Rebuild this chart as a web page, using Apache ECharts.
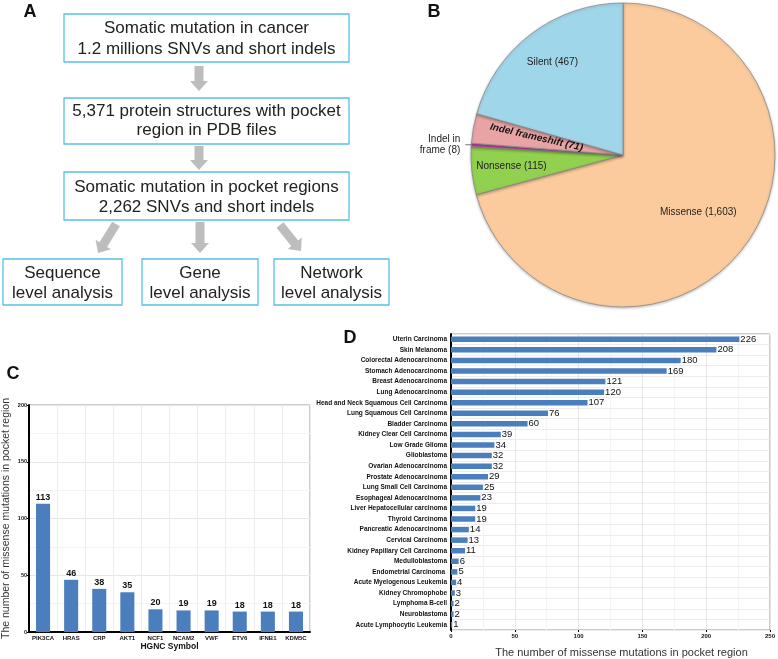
<!DOCTYPE html>
<html>
<head>
<meta charset="utf-8">
<script src="https://cdn.jsdelivr.net/npm/echarts@6/dist/echarts.min.js"></script>
<style>
  html, body { margin: 0; padding: 0; background: #fff; }
  #fig { width: 778px; height: 659px; }
</style>
</head>
<body>
<div id="fig"></div>
<script>
// ---- data ----
const pieNames = ["Missense", "Nonsense", "Indel in frame", "Indel frameshift", "Silent"];
const pieValues = [1603, 115, 8, 71, 467];

const geneNames = ["PIK3CA", "HRAS", "CRP", "AKT1", "NCF1", "NCAM2", "VWF", "ETV6", "IFNB1", "KDM5C"];
const geneCounts = [113, 46, 38, 35, 20, 19, 19, 18, 18, 18];
const geneTicks = [0, 50, 100, 150, 200];

const cancerNames = [
  "Uterin Carcinoma", "Skin Melanoma", "Colorectal Adenocarcinoma", "Stomach Adenocarcinoma",
  "Breast Adenocarcinoma", "Lung Adenocarcinoma", "Head and Neck Squamous Cell Carcinoma",
  "Lung Squamous Cell Carcinoma", "Bladder Carcinoma", "Kidney Clear Cell Carcinoma",
  "Low Grade Glioma", "Glioblastoma", "Ovarian Adenocarcinoma", "Prostate Adenocarcinoma",
  "Lung Small Cell Carcinoma", "Esophageal Adenocarcinoma", "Liver Hepatocellular carcinoma",
  "Thyroid Carcinoma", "Pancreatic Adenocarcinoma", "Cervical Carcinoma",
  "Kidney Papillary Cell Carcinoma", "Medulloblastoma", "Endometrial Carcinoma ",
  "Acute Myelogenous Leukemia", "Kidney Chromophobe", "Lymphoma B-cell", "Neuroblastoma",
  "Acute Lymphocytic Leukemia"
];
const cancerCounts = [226, 208, 180, 169, 121, 120, 107, 76, 60, 39, 34, 32, 32, 29, 25, 23,
  19, 19, 14, 13, 11, 6, 5, 4, 3, 2, 2, 1];
const cancerTicks = [0, 50, 100, 150, 200, 250];

// flowchart text (panel A)
const flowTop = [
  ["Somatic mutation in cancer", "1.2 millions SNVs and short indels"],
  ["5,371 protein structures with pocket", "region in PDB files"],
  ["Somatic mutation in pocket regions", "2,262 SNVs and short indels"]
];
const flowBottom = [
  ["Sequence", "level analysis"],
  ["Gene", "level analysis"],
  ["Network", "level analysis"]
];

// ---- styles ----
const FONT = "'Liberation Sans', Arial, Helvetica, sans-serif";
const BAR = "#4b7ebd";
const pieColors = ["#fccb9d", "#92d050", "#cc3fb4", "#e8a4a4", "#a0d6e9"];
const pieLabelR = [0.6, 0.71, null, 0.56, 0.74];
const PIE_C = [623, 155];
const PIE_R = 152;

const chart = echarts.init(document.getElementById("fig"));

// panel A graphics
const g = [];
function box(x, y, w, h, lines, cy0, lh) {
  g.push({ type: "rect", shape: { x: x, y: y, width: w, height: h },
    style: { fill: "#fff", stroke: "#57c1e6", lineWidth: 1.3 } });
  lines.forEach(function (t, i) {
    g.push({ type: "text", style: { text: t, x: x + w / 2, y: cy0 + i * lh, font: "17px " + FONT,
      fill: "#222", align: "center", verticalAlign: "middle" } });
  });
}
function arrow(x1, y1, x2, y2) {
  const dx = x2 - x1, dy = y2 - y1, L = Math.hypot(dx, dy);
  const ux = dx / L, uy = dy / L, nx = -uy, ny = ux;
  const sw = 4.5, hw = 9, hl = 10;
  const bx = x2 - ux * hl, by = y2 - uy * hl;
  const pts = [
    [x1 + nx * sw, y1 + ny * sw], [bx + nx * sw, by + ny * sw], [bx + nx * hw, by + ny * hw],
    [x2, y2], [bx - nx * hw, by - ny * hw], [bx - nx * sw, by - ny * sw], [x1 - nx * sw, y1 - ny * sw]
  ];
  g.push({ type: "polygon", shape: { points: pts }, style: { fill: "#bdbdbd" } });
}
box(64, 14, 285, 48, flowTop[0], 28.5, 20.5);
box(64, 98, 285, 46, flowTop[1], 111, 19.5);
box(64, 172, 285, 48, flowTop[2], 187, 20);
box(3, 259, 119, 46, flowBottom[0], 273, 20);
box(142, 259, 116, 46, flowBottom[1], 273, 20);
box(274, 259, 115, 46, flowBottom[2], 273, 20);
arrow(199, 66, 199, 91);
arrow(199, 146, 199, 170);
arrow(200, 222, 200, 253);
arrow(116, 224, 98, 253);
arrow(280, 225, 301, 251);

// panel letters
[["A", 30, 12], ["B", 434, 12], ["C", 13, 374], ["D", 350, 338]].forEach(function (l) {
  g.push({ type: "text", style: { text: l[0], x: l[1], y: l[2], font: "bold 18px " + FONT,
    fill: "#111", align: "center", verticalAlign: "middle" } });
});

function fmt(n) { return n.toLocaleString("en-US"); }

const pieData = pieNames.map(function (n, i) {
  const d = { name: n, value: pieValues[i], itemStyle: { color: pieColors[i] } };
  if (n === "Indel in frame") {
    d.label = { position: "outside", formatter: "Indel in\nframe ({c})", align: "right",
      fontSize: 10, lineHeight: 11, color: "#222" };
    d.labelLine = { show: true, length: 2, length2: 4, lineStyle: { color: "#555", width: 0.8 } };
  } else if (n === "Indel frameshift") {
    d.label = { fontWeight: "bold", fontStyle: "italic", rotate: -13, color: "#111" };
  }
  return d;
});

chart.setOption({
  animation: false,
  textStyle: { fontFamily: FONT },
  graphic: g,
  grid: [
    { left: 26, top: 405, width: 284, height: 227, show: true, borderColor: "#999", borderWidth: 1 },
    { left: 451, top: 334, width: 321, height: 301, show: true, borderColor: "#999", borderWidth: 1 }
  ],
  xAxis: [
    {
      gridIndex: 0, type: "category", data: geneNames,
      name: "HGNC Symbol", nameLocation: "middle", nameGap: 9,
      nameTextStyle: { fontSize: 8.5, fontWeight: "bold", color: "#111" },
      axisLine: { lineStyle: { color: "#000", width: 2 } },
      axisTick: { alignWithLabel: true, length: 2, lineStyle: { color: "#000" } },
      axisLabel: { fontSize: 6, fontWeight: "bold", color: "#111", margin: 3, interval: 0 },
      splitLine: { show: true, lineStyle: { color: "#ececec" } }
    },
    {
      gridIndex: 1, type: "value", min: cancerTicks[0], max: cancerTicks[cancerTicks.length - 1], interval: 50,
      name: "The number of missense mutations in pocket region", nameLocation: "middle", nameGap: 17,
      nameTextStyle: { fontSize: 11, color: "#333", padding: [0, 0, 0, 22] },
      axisLine: { lineStyle: { color: "#000", width: 2 } },
      axisTick: { show: true, length: 2, lineStyle: { color: "#000" } },
      axisLabel: { fontSize: 6, fontWeight: "bold", color: "#111", margin: 3 },
      splitLine: { show: true, lineStyle: { color: "#e6e6e6" } },
      minorTick: { show: false, splitNumber: 2 },
      minorSplitLine: { show: true, lineStyle: { color: "#f3f3f3" } }
    }
  ],
  yAxis: [
    {
      gridIndex: 0, type: "value", min: geneTicks[0], max: geneTicks[geneTicks.length - 1], interval: 50,
      name: "The number of missense mutations in pocket region", nameLocation: "middle", nameGap: 17,
      nameTextStyle: { fontSize: 10.5, color: "#333" },
      axisLine: { show: true, lineStyle: { color: "#000", width: 2 } },
      axisTick: { show: true, length: 2, lineStyle: { color: "#000" } },
      axisLabel: { fontSize: 5.5, fontWeight: "bold", color: "#111", margin: 2 },
      splitLine: { show: true, lineStyle: { color: "#e6e6e6" } },
      minorTick: { show: false, splitNumber: 2 },
      minorSplitLine: { show: true, lineStyle: { color: "#f3f3f3" } }
    },
    {
      gridIndex: 1, type: "category", data: cancerNames, inverse: true,
      axisLine: { show: true, lineStyle: { color: "#000", width: 2 } },
      axisTick: { alignWithLabel: true, length: 2, lineStyle: { color: "#000" } },
      axisLabel: { fontSize: 6.5, fontWeight: "bold", color: "#111", margin: 4, interval: 0 },
      splitLine: { show: true, lineStyle: { color: "#ececec" } }
    }
  ],
  series: [
    {
      type: "pie", center: PIE_C, radius: PIE_R, startAngle: 90, clockwise: true,
      avoidLabelOverlap: false,
      data: pieData,
      itemStyle: { borderColor: "#8a8a8a", borderWidth: 0.8, shadowBlur: 3, shadowOffsetY: 1,
        shadowColor: "rgba(0,0,0,0.25)" },
      label: { position: "inside", fontSize: 10, color: "#222",
        formatter: function (p) { return p.name + " (" + fmt(p.value) + ")"; } },
      labelLayout: function (p) {
        const f = pieLabelR[p.dataIndex];
        if (f == null) return {};
        const r = p.labelRect;
        const cx = r.x + r.width / 2, cy = r.y + r.height / 2;
        const k = f / 0.5 - 1;
        return { dx: (cx - PIE_C[0]) * k, dy: (cy - PIE_C[1]) * k };
      },
      emphasis: { disabled: true }
    },
    {
      type: "bar", xAxisIndex: 0, yAxisIndex: 0, data: geneCounts, barWidth: "50%",
      itemStyle: { color: BAR },
      label: { show: true, position: "top", fontSize: 9, fontWeight: "bold", color: "#111", distance: 2 }
    },
    {
      type: "bar", xAxisIndex: 1, yAxisIndex: 1, data: cancerCounts, barWidth: "52%",
      itemStyle: { color: BAR },
      label: { show: true, position: "right", fontSize: 9.5, color: "#111", distance: 1 }
    }
  ]
});
</script>
</body>
</html>
